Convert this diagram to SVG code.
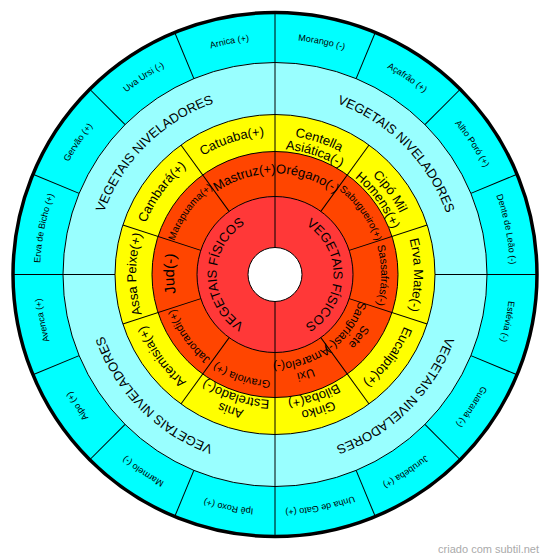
<svg xmlns="http://www.w3.org/2000/svg" width="550" height="559" viewBox="0 0 550 559">
<style>
text{font-family:"Liberation Sans",Arial,sans-serif;fill:#000;text-anchor:middle}
.c{font-size:9px}
.n{font-size:13px}
.f{font-size:13px}
.y{font-size:13px}
.o{font-size:13px}
.os{font-size:10px}
.om{font-size:11px}
.o2{font-size:12px}
.j{font-size:15px}
.ring{stroke:#000;stroke-width:1}
#dividers line{stroke:#000;stroke-width:1}
.wm{font-size:11px;fill:#aaa;text-anchor:end}
</style>
<defs>
<path id="p235" d="M275,39.5 A235,235 0 0 1 275,509.5 A235,235 0 0 1 275,39.5 A235,235 0 0 1 275,509.5 A235,235 0 0 1 275,39.5"/>
<path id="p182" d="M275,92.5 A182,182 0 0 1 275,456.5 A182,182 0 0 1 275,92.5 A182,182 0 0 1 275,456.5 A182,182 0 0 1 275,92.5"/>
<path id="p58" d="M275,216 A58.5,58.5 0 0 1 275,333 A58.5,58.5 0 0 1 275,216 A58.5,58.5 0 0 1 275,333 A58.5,58.5 0 0 1 275,216"/>
<path id="p139" d="M275,135.5 A139,139 0 0 1 275,413.5 A139,139 0 0 1 275,135.5 A139,139 0 0 1 275,413.5 A139,139 0 0 1 275,135.5"/>
<path id="p125" d="M275,149 A125.5,125.5 0 0 1 275,400 A125.5,125.5 0 0 1 275,149 A125.5,125.5 0 0 1 275,400 A125.5,125.5 0 0 1 275,149"/>
<path id="p101" d="M275,173.5 A101,101 0 0 1 275,375.5 A101,101 0 0 1 275,173.5 A101,101 0 0 1 275,375.5 A101,101 0 0 1 275,173.5"/>
<path id="p106" d="M275,168.5 A106,106 0 0 1 275,380.5 A106,106 0 0 1 275,168.5 A106,106 0 0 1 275,380.5 A106,106 0 0 1 275,168.5"/>
<path id="p88" d="M275,186.5 A88,88 0 0 1 275,362.5 A88,88 0 0 1 275,186.5 A88,88 0 0 1 275,362.5 A88,88 0 0 1 275,186.5"/>
</defs>

<g id="rings">
<circle cx="275" cy="274.5" r="262" fill="#00ffff" stroke="#000" stroke-width="3.5"/>
<circle class="ring" cx="275" cy="274.5" r="212" fill="#99ffff"/>
<circle class="ring" cx="275" cy="274.5" r="160" fill="#ffff00"/>
<circle class="ring" cx="275" cy="274.5" r="123" fill="#ff4500"/>
<circle class="ring" cx="275" cy="274.5" r="78" fill="#ff3838"/>
</g>

<g id="dividers">
<line x1="275" y1="12.5" x2="275" y2="536.5"/>
<line x1="13" y1="274.5" x2="115" y2="274.5"/>
<line x1="435" y1="274.5" x2="537" y2="274.5"/>
<line x1="275" y1="62.5" x2="275" y2="12.5" transform="rotate(22.5 275 274.5)"/>
<line x1="275" y1="62.5" x2="275" y2="12.5" transform="rotate(45 275 274.5)"/>
<line x1="275" y1="62.5" x2="275" y2="12.5" transform="rotate(67.5 275 274.5)"/>
<line x1="275" y1="62.5" x2="275" y2="12.5" transform="rotate(112.5 275 274.5)"/>
<line x1="275" y1="62.5" x2="275" y2="12.5" transform="rotate(135 275 274.5)"/>
<line x1="275" y1="62.5" x2="275" y2="12.5" transform="rotate(157.5 275 274.5)"/>
<line x1="275" y1="62.5" x2="275" y2="12.5" transform="rotate(202.5 275 274.5)"/>
<line x1="275" y1="62.5" x2="275" y2="12.5" transform="rotate(225 275 274.5)"/>
<line x1="275" y1="62.5" x2="275" y2="12.5" transform="rotate(247.5 275 274.5)"/>
<line x1="275" y1="62.5" x2="275" y2="12.5" transform="rotate(292.5 275 274.5)"/>
<line x1="275" y1="62.5" x2="275" y2="12.5" transform="rotate(315 275 274.5)"/>
<line x1="275" y1="62.5" x2="275" y2="12.5" transform="rotate(337.5 275 274.5)"/>
<line x1="275" y1="114.5" x2="275" y2="196.5" transform="rotate(36 275 274.5)"/>
<line x1="275" y1="114.5" x2="275" y2="196.5" transform="rotate(72 275 274.5)"/>
<line x1="275" y1="114.5" x2="275" y2="196.5" transform="rotate(108 275 274.5)"/>
<line x1="275" y1="114.5" x2="275" y2="196.5" transform="rotate(144 275 274.5)"/>
<line x1="275" y1="114.5" x2="275" y2="196.5" transform="rotate(216 275 274.5)"/>
<line x1="275" y1="114.5" x2="275" y2="196.5" transform="rotate(252 275 274.5)"/>
<line x1="275" y1="114.5" x2="275" y2="196.5" transform="rotate(288 275 274.5)"/>
<line x1="275" y1="114.5" x2="275" y2="196.5" transform="rotate(324 275 274.5)"/>
</g>

<g id="hole"><circle class="ring" cx="275" cy="274.5" r="27" fill="#fff"/></g>

<g id="outer-labels">
<g id="morango"><text class="c"><textPath href="#p235" startOffset="1522.69">Morango (-)</textPath></text></g>
<g id="acafrao"><text class="c"><textPath href="#p235" startOffset="1614.97">Açafrão (+)</textPath></text></g>
<g id="alho-poro"><text class="c"><textPath href="#p235" startOffset="1707.26">Alho Poró (+)</textPath></text></g>
<g id="dente-de-leao"><text class="c"><textPath href="#p235" startOffset="1799.54">Dente de Leão (-)</textPath></text></g>
<g id="estevia"><text class="c"><textPath href="#p235" startOffset="1891.83">Estévia (-)</textPath></text></g>
<g id="guarana"><text class="c"><textPath href="#p235" startOffset="1984.11">Guaraná (-)</textPath></text></g>
<g id="jurubeba"><text class="c"><textPath href="#p235" startOffset="2076.39">Jurubeba (+)</textPath></text></g>
<g id="unha-de-gato"><text class="c"><textPath href="#p235" startOffset="2168.68">Unha de Gato (+)</textPath></text></g>
<g id="ipe-roxo"><text class="c"><textPath href="#p235" startOffset="784.42">Ipê Roxo (+)</textPath></text></g>
<g id="marmelo"><text class="c"><textPath href="#p235" startOffset="876.70">Marmelo (-)</textPath></text></g>
<g id="aipo"><text class="c"><textPath href="#p235" startOffset="968.99">Aipo (+)</textPath></text></g>
<g id="avenca"><text class="c"><textPath href="#p235" startOffset="1061.27">Avenca (+)</textPath></text></g>
<g id="erva-de-bicho"><text class="c"><textPath href="#p235" startOffset="1153.55">Erva de Bicho (+)</textPath></text></g>
<g id="gervao"><text class="c"><textPath href="#p235" startOffset="1245.84">Gervão (+)</textPath></text></g>
<g id="uva-ursi"><text class="c"><textPath href="#p235" startOffset="1338.12">Uva Ursi (-)</textPath></text></g>
<g id="arnica"><text class="c"><textPath href="#p235" startOffset="1430.41">Arnica (+)</textPath></text></g>
</g>

<g id="niveladores">
<g id="niv-ne"><text class="n"><textPath href="#p182" startOffset="1286.48">VEGETAIS NIVELADORES</textPath></text></g>
<g id="niv-se"><text class="n"><textPath href="#p182" startOffset="1572.37">VEGETAIS NIVELADORES</textPath></text></g>
<g id="niv-sw"><text class="n"><textPath href="#p182" startOffset="714.71">VEGETAIS NIVELADORES</textPath></text></g>
<g id="niv-nw"><text class="n"><textPath href="#p182" startOffset="1000.60">VEGETAIS NIVELADORES</textPath></text></g>
</g>

<g id="yellow-labels">
<g id="catuaba"><text class="y"><textPath href="#p139" startOffset="829.70">Catuaba(+)</textPath></text></g>
<g id="centella"><text class="y"><textPath href="#p139" startOffset="917.03">Centella</textPath></text><text class="y"><textPath href="#p125" startOffset="827.97">Asiática(-)</textPath></text></g>
<g id="cipo"><text class="y"><textPath href="#p139" startOffset="1004.37">Cipó Mil</textPath></text><text class="y"><textPath href="#p125" startOffset="906.82">Homens(+)</textPath></text></g>
<g id="erva-mate"><text class="y"><textPath href="#p139" startOffset="1091.70">Erva Mate(-)</textPath></text></g>
<g id="eucalipto"><text class="y"><textPath href="#p139" startOffset="1179.04">Eucalipto(+)</textPath></text></g>
<g id="ginko"><text class="y"><textPath href="#p139" startOffset="1266.38">Ginko</textPath></text><text class="y"><textPath href="#p125" startOffset="1143.38">Biloba(+)</textPath></text></g>
<g id="anis"><text class="y"><textPath href="#p139" startOffset="480.35">Anis</textPath></text><text class="y"><textPath href="#p125" startOffset="433.70">Estrelado(-)</textPath></text></g>
<g id="artemisia"><text class="y"><textPath href="#p139" startOffset="567.69">Artemisia(+)</textPath></text></g>
<g id="assa-peixe"><text class="y"><textPath href="#p139" startOffset="655.02">Assa Peixe(+)</textPath></text></g>
<g id="cambara"><text class="y"><textPath href="#p139" startOffset="742.36">Cambará(+)</textPath></text></g>
</g>

<g id="orange-labels">
<g id="mastruz"><text class="o"><textPath href="#p101" startOffset="602.87">Mastruz(+)</textPath></text></g>
<g id="oregano"><text class="o"><textPath href="#p101" startOffset="666.33">Orégano(-)</textPath></text></g>
<g id="sabugueiro"><text class="os"><textPath href="#p106" startOffset="765.92">Sabugueiro(+)</textPath></text></g>
<g id="sassafras"><text class="om"><textPath href="#p106" startOffset="832.52">Sassafrás(-)</textPath></text></g>
<g id="sete-sangrias"><text class="o2"><textPath href="#p101" startOffset="856.71">Sete</textPath></text><text class="o2"><textPath href="#p88" startOffset="746.44">Sangrias(-)</textPath></text></g>
<g id="uxi-amarelo"><text class="o2"><textPath href="#p101" startOffset="920.17">Uxi</textPath></text><text class="o2"><textPath href="#p88" startOffset="801.73">Amarelo(-)</textPath></text></g>
<g id="graviola"><text class="om"><textPath href="#p106" startOffset="366.31">Graviola (+)</textPath></text></g>
<g id="jaborandi"><text class="om"><textPath href="#p106" startOffset="432.91">Jaborandi(+)</textPath></text></g>
<g id="jud"><text class="j"><textPath href="#p101" startOffset="475.95">Jud(-)</textPath></text></g>
<g id="marapuama"><text class="os"><textPath href="#p106" startOffset="566.12">Marapuama(+)</textPath></text></g>
</g>

<g id="fisicos">
<g id="fis-e"><text class="f"><textPath href="#p58" startOffset="459.46">VEGETAIS FÍSICOS</textPath></text></g>
<g id="fis-w"><text class="f"><textPath href="#p58" startOffset="275.68">VEGETAIS FÍSICOS</textPath></text></g>
</g>

<text class="wm" x="539" y="552.5">criado com subtil.net</text>
</svg>
